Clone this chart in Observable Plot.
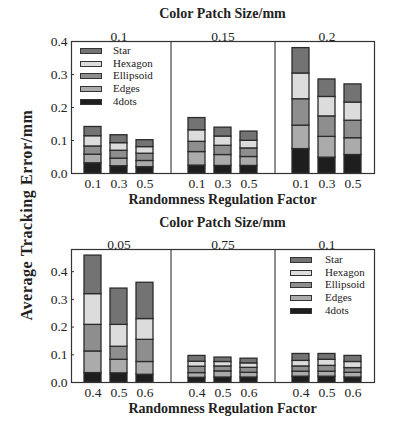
<!DOCTYPE html>
<html>
<head>
<meta charset="utf-8">
<script src="https://cdn.jsdelivr.net/npm/d3@7"></script>
<script src="https://cdn.jsdelivr.net/npm/@observablehq/plot@0.6"></script>
<style>
  html, body { margin: 0; padding: 0; background: #fff; }
  #chart { position: relative; width: 397px; height: 423px; font-family: "Liberation Serif", serif; color: #222; overflow: hidden; }
  .abs { position: absolute; }
  .title { position: absolute; left: 71px; width: 303px; text-align: center; font-weight: bold; font-size: 14px; line-height: 16px; white-space: nowrap; }
  .ylab { position: absolute; font-weight: bold; font-size: 16px; letter-spacing: 0.6px; white-space: nowrap; transform: translate(-50%, -50%) rotate(-90deg); left: 27px; top: 215px; }
  .legend { position: absolute; font-size: 11px; line-height: 12.7px; }
  .legend .row { position: relative; height: 12.7px; white-space: nowrap; }
  .legend .sw { position: absolute; left: 0; top: 4px; width: 20px; height: 4px; border: 1px solid #333; }
  .legend .lab { position: absolute; top: 0; }
</style>
</head>
<body>
<div id="chart"></div>
<script>
// ---------- data ----------
const seriesNames = ["4dots", "Edges", "Ellipsoid", "Hexagon", "Star"];
const seriesColors = ["#1e1e1e", "#ababab", "#8e8e8e", "#dcdcdc", "#737373"];
const legendOrder = ["Star", "Hexagon", "Ellipsoid", "Edges", "4dots"];

const topGroups = ["0.1", "0.15", "0.2"];
const topFactors = ["0.1", "0.3", "0.5"];
const top4dots     = [0.031, 0.022, 0.019, 0.024, 0.023, 0.023, 0.074, 0.048, 0.056];
const topEdges     = [0.026, 0.023, 0.019, 0.041, 0.033, 0.027, 0.071, 0.063, 0.051];
const topEllipsoid = [0.025, 0.024, 0.022, 0.031, 0.028, 0.026, 0.080, 0.062, 0.053];
const topHexagon   = [0.031, 0.023, 0.020, 0.035, 0.028, 0.023, 0.078, 0.059, 0.055];
const topStar      = [0.028, 0.024, 0.021, 0.037, 0.027, 0.028, 0.077, 0.053, 0.055];

const bottomGroups = ["0.05", "0.75", "0.1"];
const bottomFactors = ["0.4", "0.5", "0.6"];
const bottom4dots     = [0.034, 0.033, 0.028, 0.017, 0.018, 0.018, 0.021, 0.021, 0.018];
const bottomEdges     = [0.078, 0.049, 0.046, 0.017, 0.022, 0.017, 0.018, 0.018, 0.017];
const bottomEllipsoid = [0.096, 0.047, 0.080, 0.023, 0.018, 0.018, 0.019, 0.021, 0.017];
const bottomHexagon   = [0.111, 0.079, 0.075, 0.018, 0.016, 0.016, 0.020, 0.022, 0.022];
const bottomStar      = [0.139, 0.131, 0.131, 0.021, 0.016, 0.017, 0.025, 0.021, 0.022];

const topYDomain = [0, 0.4];
const bottomYDomain = [0, 0.48];
const yTickValues = [0, 0.1, 0.2, 0.3, 0.4];

const groupTitle = "Color Patch Size/mm";
const xTitle = "Randomness Regulation Factor";
const yTitle = "Average Tracking Error/mm";

// ---------- build ----------
const chart = document.getElementById("chart");
const W = 397, mL = 71, mR = 23;

function makePanel({groups, factors, seriesValues, yDomain, svgTop, svgHeight, mT, mB}) {
  const domain = [];
  groups.forEach((g, gi) => {
    if (gi > 0) domain.push(`gap${gi}`);
    factors.forEach(f => domain.push(`${gi}|${f}`));
  });
  const gaps = domain.filter(k => k.startsWith("gap"));
  const rows = [];
  groups.forEach((g, gi) => factors.forEach((f, fi) => {
    seriesNames.forEach((s, si) => {
      rows.push({key: `${gi}|${f}`, series: s, value: seriesValues[si][gi * factors.length + fi]});
    });
  }));
  const groupLabels = groups.map((g, gi) => ({key: `${gi}|${factors[1]}`, label: g}));
  const plotW = W - mL - mR;

  const svg = Plot.plot({
    width: W,
    height: svgHeight,
    marginLeft: mL,
    marginRight: mR,
    marginTop: mT,
    marginBottom: mB,
    style: {fontFamily: "Liberation Serif, serif", fontSize: "13.5px", color: "#222", background: "transparent"},
    x: {type: "band", domain, paddingInner: 0.34, paddingOuter: 0.17, inset: 4.5,
        tickSize: 0, tickPadding: 5, label: null,
        tickFormat: k => k.startsWith("gap") ? "" : k.split("|")[1]},
    y: {domain: yDomain, ticks: yTickValues, tickFormat: d3.format(".1f"), tickSize: 0, tickPadding: 4, label: null},
    color: {domain: seriesNames, range: seriesColors},
    marks: [
      Plot.barY(rows, {x: "key", y: "value", fill: "series", stroke: "#2b2b2b", strokeWidth: 1.3}),
      Plot.tickY(yTickValues.filter(v => v > 0), {y: d => d, stroke: "#333", insetRight: plotW - 3}),
      Plot.ruleX(gaps, {x: d => d, stroke: "#444", strokeWidth: 1.2}),
      Plot.text(groupLabels, {x: "key", text: "label", frameAnchor: "top", dy: -10, fontSize: 13.5}),
      Plot.frame({stroke: "#333", strokeWidth: 1.2})
    ]
  });
  const wrap = document.createElement("div");
  wrap.className = "abs";
  wrap.style.left = "0px";
  wrap.style.top = svgTop + "px";
  wrap.appendChild(svg);
  chart.appendChild(wrap);
}

makePanel({groups: topGroups, factors: topFactors,
  seriesValues: [top4dots, topEdges, topEllipsoid, topHexagon, topStar],
  yDomain: topYDomain, svgTop: 20, svgHeight: 175, mT: 21, mB: 22});
makePanel({groups: bottomGroups, factors: bottomFactors,
  seriesValues: [bottom4dots, bottomEdges, bottomEllipsoid, bottomHexagon, bottomStar],
  yDomain: bottomYDomain, svgTop: 229, svgHeight: 175, mT: 20, mB: 22});

function addTitle(text, top) {
  const d = document.createElement("div");
  d.className = "title";
  d.style.top = top + "px";
  d.textContent = text;
  chart.appendChild(d);
}
addTitle(groupTitle, 6);
addTitle(xTitle, 192);
addTitle(groupTitle, 215);
addTitle(xTitle, 401);

const yl = document.createElement("div");
yl.className = "ylab";
yl.textContent = yTitle;
chart.appendChild(yl);

function addLegend(left, top, textOffset) {
  const lg = document.createElement("div");
  lg.className = "legend";
  lg.style.left = left + "px";
  lg.style.top = top + "px";
  legendOrder.forEach(name => {
    const row = document.createElement("div");
    row.className = "row";
    const sw = document.createElement("div");
    sw.className = "sw";
    sw.style.background = seriesColors[seriesNames.indexOf(name)];
    const lab = document.createElement("div");
    lab.className = "lab";
    lab.style.left = textOffset + "px";
    lab.textContent = name;
    row.appendChild(sw);
    row.appendChild(lab);
    lg.appendChild(row);
  });
  chart.appendChild(lg);
}
addLegend(80, 44, 33);
addLegend(290, 253, 35);
</script>
</body>
</html>
